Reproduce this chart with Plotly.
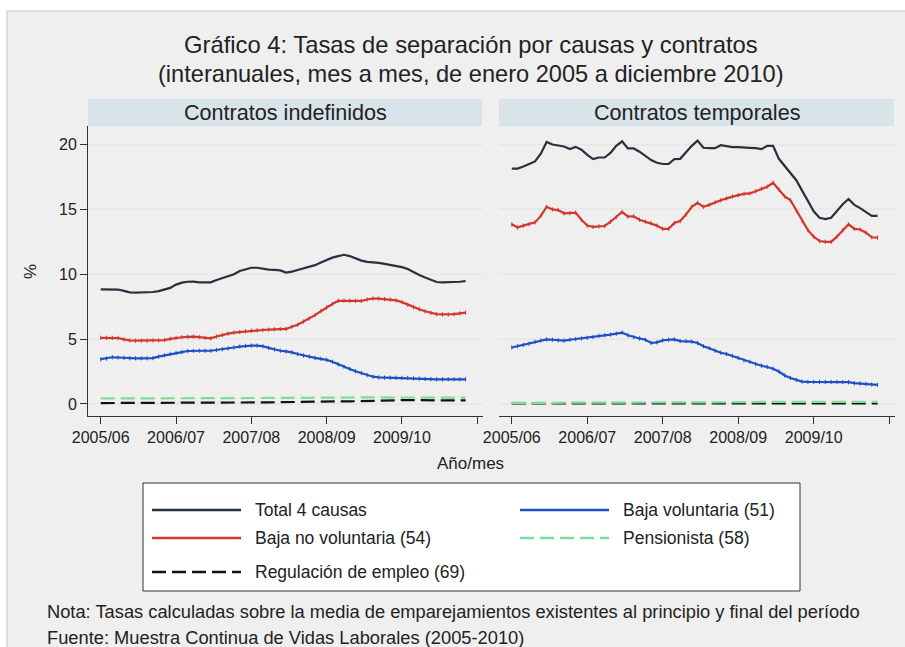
import plotly.graph_objects as go

W, H = 905, 647

# monthly index, first point = 2005/06
months = list(range(64))
tick_vals = [0, 13, 26, 39, 52, 65]
tick_text = ["2005/06", "2006/07", "2007/08", "2008/09", "2009/10", ""]
y_ticks = [0, 5, 10, 15, 20]

# Contratos indefinidos
indef_total = [8.84, 8.84, 8.84, 8.82, 8.72, 8.60, 8.58, 8.58, 8.60, 8.63,
               8.70, 8.80, 8.95, 9.20, 9.35, 9.42, 9.43, 9.38, 9.36, 9.38,
               9.55, 9.72, 9.85, 10.00, 10.25, 10.40, 10.50, 10.50, 10.40, 10.35,
               10.33, 10.30, 10.13, 10.20, 10.33, 10.45, 10.60, 10.70, 10.90, 11.10,
               11.28, 11.40, 11.50, 11.40, 11.20, 11.05, 10.95, 10.92, 10.88, 10.80,
               10.72, 10.65, 10.55, 10.40, 10.15, 9.95, 9.75, 9.55, 9.40, 9.37,
               9.37, 9.38, 9.42, 9.48]
indef_vol = [3.45, 3.50, 3.60, 3.58, 3.55, 3.53, 3.52, 3.52, 3.52, 3.53,
             3.65, 3.75, 3.85, 3.93, 4.00, 4.08, 4.10, 4.10, 4.10, 4.10,
             4.15, 4.22, 4.28, 4.35, 4.42, 4.48, 4.50, 4.50, 4.45, 4.32,
             4.20, 4.10, 4.05, 3.98, 3.85, 3.73, 3.65, 3.55, 3.48, 3.40,
             3.25, 3.05, 2.88, 2.70, 2.52, 2.38, 2.22, 2.10, 2.05, 2.03,
             2.02, 2.02, 2.01, 2.00, 1.97, 1.95, 1.93, 1.92, 1.90, 1.90,
             1.90, 1.90, 1.90, 1.90]
indef_invol = [5.10, 5.10, 5.10, 5.08, 4.98, 4.90, 4.88, 4.88, 4.88, 4.90,
               4.90, 4.92, 5.02, 5.10, 5.14, 5.17, 5.19, 5.15, 5.10, 5.06,
               5.20, 5.32, 5.42, 5.50, 5.55, 5.60, 5.65, 5.68, 5.70, 5.73,
               5.76, 5.78, 5.78, 5.95, 6.10, 6.35, 6.58, 6.85, 7.15, 7.45,
               7.70, 7.95, 7.97, 7.95, 7.94, 7.94, 8.05, 8.13, 8.12, 8.08,
               8.05, 7.98, 7.85, 7.65, 7.45, 7.30, 7.15, 7.02, 6.92, 6.90,
               6.90, 6.92, 6.98, 7.04]
indef_pens = [0.42, 0.42, 0.42, 0.42, 0.42, 0.42, 0.42, 0.42, 0.42, 0.42,
              0.42, 0.42, 0.43, 0.43, 0.43, 0.43, 0.43, 0.43, 0.43, 0.43,
              0.43, 0.43, 0.44, 0.44, 0.44, 0.44, 0.44, 0.44, 0.44, 0.44,
              0.45, 0.45, 0.45, 0.45, 0.46, 0.46, 0.47, 0.48, 0.49, 0.50,
              0.51, 0.51, 0.51, 0.51, 0.50, 0.50, 0.50, 0.50, 0.50, 0.50,
              0.50, 0.50, 0.50, 0.50, 0.49, 0.49, 0.49, 0.49, 0.49, 0.49,
              0.49, 0.49, 0.49, 0.49]
indef_reg = [0.07, 0.07, 0.07, 0.07, 0.07, 0.07, 0.07, 0.07, 0.07, 0.07,
             0.07, 0.07, 0.07, 0.07, 0.07, 0.07, 0.07, 0.07, 0.07, 0.07,
             0.07, 0.07, 0.07, 0.07, 0.08, 0.08, 0.09, 0.10, 0.11, 0.12,
             0.13, 0.14, 0.15, 0.15, 0.15, 0.15, 0.15, 0.16, 0.16, 0.17,
             0.18, 0.19, 0.20, 0.20, 0.21, 0.22, 0.22, 0.24, 0.27, 0.30,
             0.31, 0.31, 0.30, 0.30, 0.29, 0.29, 0.28, 0.28, 0.28, 0.27,
             0.27, 0.27, 0.27, 0.27]

# Contratos temporales
temp_total = [18.15, 18.15, 18.30, 18.50, 18.70, 19.30, 20.20, 20.00, 19.90, 19.85,
              19.65, 19.82, 19.60, 19.20, 18.88, 19.00, 19.00, 19.35, 19.90, 20.25,
              19.70, 19.70, 19.45, 19.10, 18.80, 18.60, 18.50, 18.50, 18.88, 18.90,
              19.40, 19.90, 20.30, 19.75, 19.72, 19.72, 19.95, 19.85, 19.80, 19.80,
              19.80, 19.75, 19.72, 19.65, 19.90, 19.90, 18.90, 18.35, 17.75, 17.25,
              16.45, 15.60, 14.85, 14.35, 14.25, 14.35, 14.90, 15.40, 15.80, 15.35,
              15.10, 14.80, 14.50, 14.50]
temp_vol = [4.35, 4.45, 4.55, 4.65, 4.80, 4.90, 4.98, 4.95, 4.90, 4.88,
            4.95, 5.00, 5.05, 5.10, 5.15, 5.25, 5.30, 5.35, 5.42, 5.50,
            5.30, 5.15, 5.05, 4.95, 4.70, 4.75, 4.90, 4.95, 4.97, 4.85,
            4.85, 4.80, 4.70, 4.45, 4.30, 4.10, 3.95, 3.85, 3.70, 3.55,
            3.35, 3.25, 3.05, 2.95, 2.85, 2.72, 2.50, 2.20, 2.00, 1.85,
            1.72, 1.70, 1.70, 1.70, 1.70, 1.70, 1.70, 1.68, 1.68, 1.60,
            1.58, 1.55, 1.50, 1.47]
temp_invol = [13.85, 13.60, 13.75, 13.85, 14.00, 14.50, 15.20, 15.00, 14.95, 14.70,
              14.70, 14.75, 14.20, 13.75, 13.65, 13.70, 13.72, 14.05, 14.40, 14.80,
              14.45, 14.47, 14.20, 14.05, 13.95, 13.75, 13.50, 13.50, 13.95, 14.10,
              14.60, 15.20, 15.50, 15.20, 15.35, 15.55, 15.70, 15.85, 16.00, 16.10,
              16.20, 16.23, 16.40, 16.60, 16.75, 17.05, 16.55, 16.00, 15.70, 14.90,
              14.10, 13.40, 12.90, 12.56, 12.50, 12.50, 12.90, 13.40, 13.85, 13.50,
              13.45, 13.20, 12.85, 12.82]
temp_pens = [0.08, 0.08, 0.08, 0.08, 0.08, 0.08, 0.08, 0.08, 0.08, 0.08,
             0.08, 0.08, 0.08, 0.08, 0.08, 0.08, 0.08, 0.08, 0.08, 0.08,
             0.08, 0.08, 0.08, 0.08, 0.08, 0.08, 0.08, 0.08, 0.08, 0.08,
             0.08, 0.08, 0.09, 0.09, 0.10, 0.10, 0.11, 0.12, 0.13, 0.14,
             0.15, 0.15, 0.16, 0.16, 0.16, 0.16, 0.16, 0.16, 0.16, 0.16,
             0.16, 0.16, 0.16, 0.16, 0.16, 0.16, 0.16, 0.16, 0.16, 0.16,
             0.16, 0.16, 0.16, 0.16]
temp_reg = [0.05, 0.05, 0.05, 0.05, 0.05, 0.05, 0.05, 0.05, 0.05, 0.05,
            0.05, 0.05, 0.05, 0.05, 0.05, 0.05, 0.05, 0.05, 0.05, 0.05,
            0.05, 0.05, 0.05, 0.05, 0.05, 0.05, 0.05, 0.05, 0.05, 0.05,
            0.05, 0.05, 0.05, 0.05, 0.05, 0.05, 0.05, 0.05, 0.05, 0.05,
            0.05, 0.05, 0.05, 0.05, 0.05, 0.05, 0.05, 0.05, 0.05, 0.05,
            0.05, 0.05, 0.05, 0.05, 0.05, 0.05, 0.05, 0.05, 0.05, 0.05,
            0.05, 0.05, 0.05, 0.05]

series_names = ["Total 4 causas", "Baja voluntaria (51)", "Baja no voluntaria (54)",
                "Pensionista (58)", "Regulación de empleo (69)"]
colors = ["#27313f", "#1d4fc4", "#d2372c", "#7fdc9c", "#111111"]
dashes = ["solid", "solid", "solid", "14px,6px", "14px,6px"]
markers = [False, True, True, False, False]

panels = [
    ("x", "y", [indef_total, indef_vol, indef_invol, indef_pens, indef_reg]),
    ("x2", "y2", [temp_total, temp_vol, temp_invol, temp_pens, temp_reg]),
]

FONT = "Liberation Sans, Arial, sans-serif"
TXT = "#222222"


def px(x):
    return x / W


def py(y):
    return 1 - y / H


fig = go.Figure()

# draw order: dashed at the back, then blue, red, total
order = [4, 3, 1, 2, 0]
for xa, ya, data in panels:
    for k in order:
        tr = dict(x=months, y=data[k], name=series_names[k], xaxis=xa, yaxis=ya,
                  showlegend=False, line=dict(color=colors[k], width=2.2, dash=dashes[k]))
        if markers[k]:
            tr["mode"] = "lines+markers"
            tr["marker"] = dict(symbol="line-ns", size=3, line=dict(color=colors[k], width=1))
        else:
            tr["mode"] = "lines"
        fig.add_trace(go.Scatter(**tr))

xcommon = dict(range=[-2.2, 66], tickvals=tick_vals, ticktext=tick_text, ticks="outside",
               ticklen=7, tickcolor="#333", showline=True, linecolor="#333", linewidth=1,
               showgrid=False, zeroline=False, automargin=False,
               tickfont=dict(size=16, color=TXT, family=FONT))
ycommon = dict(range=[-0.93, 21.43], tickvals=y_ticks, showgrid=True, gridcolor="#e8e8e8",
               gridwidth=1.5, zeroline=False, automargin=False, domain=[py(416), py(126)])

fig.update_layout(
    width=W, height=H,
    margin=dict(l=0, r=0, t=0, b=0, pad=0),
    autosize=False,
    paper_bgcolor="white", plot_bgcolor="white",
    font=dict(family=FONT, color=TXT),
    showlegend=False,
    xaxis=dict(domain=[px(88), px(483)], anchor="y", **xcommon),
    xaxis2=dict(domain=[px(499), px(895)], anchor="y2", **xcommon),
    yaxis=dict(anchor="x", ticks="outside", ticklen=7, tickcolor="#333", showline=True,
               linecolor="#333", linewidth=1, tickfont=dict(size=16, color=TXT, family=FONT),
               **ycommon),
    yaxis2=dict(anchor="x2", matches="y", showticklabels=False, showline=False, **ycommon),
)

shapes = [
    # grey graph region with its thin frame
    dict(type="rect", xref="paper", yref="paper", x0=px(7), x1=px(906), y0=py(648), y1=py(11),
         fillcolor="#efefef", line=dict(color="#c4c4c4", width=1), layer="below"),
    # panel header strips
    dict(type="rect", xref="paper", yref="paper", x0=px(88), x1=px(482), y0=py(126), y1=py(99),
         fillcolor="#d9e3ea", line=dict(width=0), layer="below"),
    dict(type="rect", xref="paper", yref="paper", x0=px(499), x1=px(894), y0=py(126), y1=py(99),
         fillcolor="#d9e3ea", line=dict(width=0), layer="below"),
    # legend box
    dict(type="rect", xref="paper", yref="paper", x0=px(143), x1=px(800), y0=py(591), y1=py(483),
         fillcolor="white", line=dict(color="#333", width=1), layer="below"),
]

# legend layout: (column x of line start, row y)
legend_pos = [(152, 510), (520, 510), (152, 538), (520, 538), (152, 572)]
annotations = []
for k, (lx, ly) in enumerate(legend_pos):
    shapes.append(dict(type="line", xref="paper", yref="paper", x0=px(lx), x1=px(lx + 89),
                       y0=py(ly), y1=py(ly),
                       line=dict(color=colors[k], width=2.5, dash=dashes[k])))
    annotations.append(dict(x=px(lx + 101), y=py(ly), xanchor="left", text=series_names[k],
                            font=dict(size=17.5, color=TXT)))

annotations += [
    dict(x=px(471), y=py(44), text="Gráfico 4: Tasas de separación por causas y contratos",
         font=dict(size=23.8, color=TXT)),
    dict(x=px(471), y=py(74), text="(interanuales, mes a mes, de enero 2005 a diciembre 2010)",
         font=dict(size=23.6, color=TXT)),
    dict(x=px(285), y=py(112.5), text="Contratos indefinidos", font=dict(size=21.6, color=TXT)),
    dict(x=px(697), y=py(112.5), text="Contratos temporales", font=dict(size=21.6, color=TXT)),
    dict(x=px(30), y=py(272), text="%", textangle=-90, font=dict(size=17, color=TXT)),
    dict(x=px(470), y=py(463), text="Año/mes", font=dict(size=17, color=TXT)),
    dict(x=px(45), y=py(611), xanchor="left",
         text="Nota: Tasas calculadas sobre la media de emparejamientos existentes al principio y final del período",
         font=dict(size=18.3, color=TXT)),
    dict(x=px(45), y=py(637), xanchor="left",
         text="Fuente: Muestra Continua de Vidas Laborales (2005-2010)",
         font=dict(size=18.3, color=TXT)),
]
for a in annotations:
    a.setdefault("xref", "paper")
    a.setdefault("yref", "paper")
    a.setdefault("showarrow", False)
    a.setdefault("xanchor", "center")
    a.setdefault("yanchor", "middle")

fig.update_layout(shapes=shapes, annotations=annotations)

fig.write_html("out.html", config={"displayModeBar": False},
               post_script="document.body.style.margin = '0px';")
